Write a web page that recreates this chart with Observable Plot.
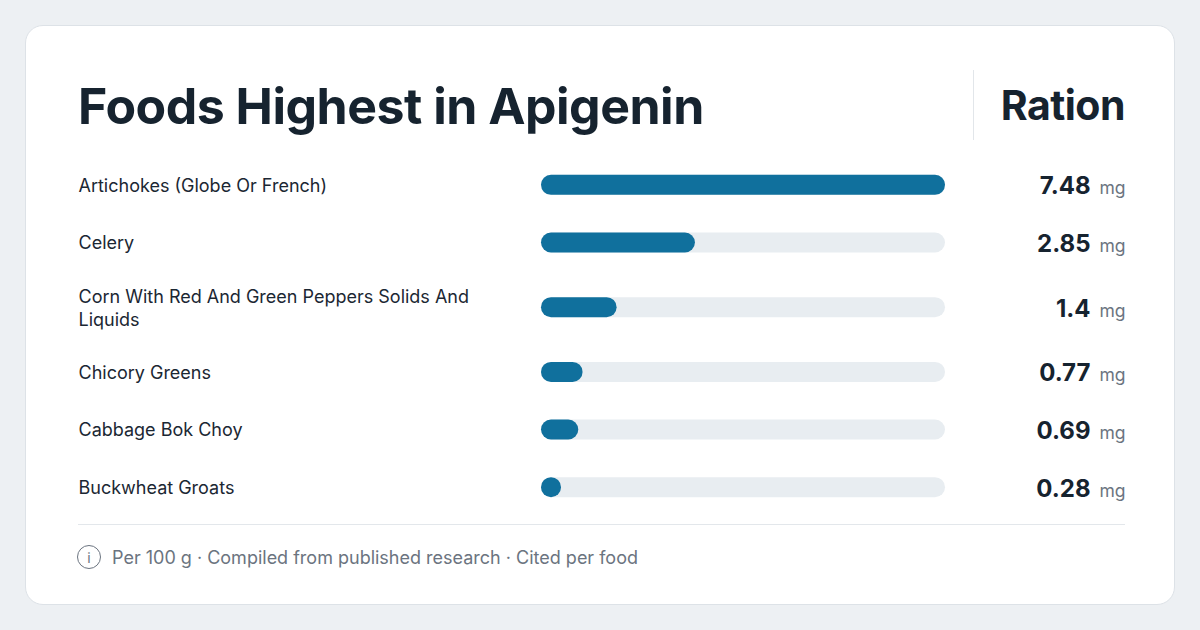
<!DOCTYPE html>
<html>
<head>
<meta charset="utf-8">
<script src="https://cdn.jsdelivr.net/npm/d3@7"></script>
<script src="https://cdn.jsdelivr.net/npm/@observablehq/plot@0.6"></script>
<style>
  html, body { margin: 0; padding: 0; }
  body { width: 1200px; height: 630px; background: #edf0f3; position: relative; overflow: hidden; font-family: Inter, "Noto Sans", sans-serif; }
  .card { position: absolute; left: 25px; top: 25px; width: 1148px; height: 578px; background: #fff; border: 1px solid #dde2e7; border-radius: 18px; }
  .title { position: absolute; left: 78px; top: 81px; font-size: 50px; line-height: 50px; font-weight: 700; color: #16232f; letter-spacing: -0.5px; white-space: nowrap; }
  .head { position: absolute; right: 75px; top: 85px; font-size: 41px; line-height: 41px; font-weight: 700; color: #16232f; letter-spacing: -0.5px; }
  .divider { position: absolute; left: 973px; top: 70px; width: 1px; height: 70px; background: #e2e6ea; }
  .rule { position: absolute; left: 78px; top: 524px; width: 1047px; height: 1px; background: #e3e7eb; }
  .foot { position: absolute; left: 77px; top: 544px; height: 26px; display: flex; align-items: center; font-size: 18px; color: #6b7480; white-space: nowrap; }
  .icon { width: 22px; height: 22px; border: 1.5px solid #6b7480; border-radius: 50%; display: inline-flex; align-items: center; justify-content: center; font-size: 14px; margin-right: 11px; box-sizing: content-box; }
  #chart { position: absolute; left: 0; top: 156px; }
</style>
</head>
<body>
<div class="card"></div>
<div class="title">Foods Highest in Apigenin</div>
<div class="divider"></div>
<div class="head">Ration</div>
<div id="chart"></div>
<div class="rule"></div>
<div class="foot"><span class="icon">i</span>Per 100 g · Compiled from published research · Cited per food</div>
<script>
const foods = [
  "Artichokes (Globe Or French)",
  "Celery",
  "Corn With Red And Green Peppers Solids And Liquids",
  "Chicory Greens",
  "Cabbage Bok Choy",
  "Buckwheat Groats"
];
const amounts = [7.48, 2.85, 1.4, 0.77, 0.69, 0.28];
const unitLabel = "mg";

// wrap labels with real font measurement
const canvas = document.createElement("canvas");
const ctx = canvas.getContext("2d");
ctx.font = "18px Inter";
function wrap(text, maxW) {
  const words = text.split(" ");
  const lines = [];
  let cur = "";
  for (const w of words) {
    const t = cur ? cur + " " + w : w;
    if (ctx.measureText(t).width > maxW && cur) { lines.push(cur); cur = w; }
    else cur = t;
  }
  if (cur) lines.push(cur);
  return lines;
}

let acc = 0;
const rows = foods.map((name, i) => {
  const lines = wrap(name, 430);
  const h = 1 + 0.245 * (lines.length - 1);
  const r = { name, text: lines.join("\n"), value: amounts[i], center: acc + h / 2 };
  acc += h;
  return r;
});
const total = acc;
const H = 360;
const pxPerUnit = H / total;
const half = 10 / pxPerUnit;
const maxV = d3.max(amounts);
const minV = maxV * 20 / 404;

const chart = Plot.plot({
  width: 1200,
  height: H,
  margin: 0,
  x: { domain: [0, maxV], range: [541, 945], axis: null },
  y: { domain: [0, total], range: [0, H], axis: null },
  style: { fontFamily: "Inter, 'Noto Sans', sans-serif", background: "transparent", overflow: "visible" },
  marks: [
    Plot.rect(rows, { x1: 0, x2: maxV, y1: d => d.center - half, y2: d => d.center + half, fill: "#e8edf1", rx: 10 }),
    Plot.rect(rows, { x1: 0, x2: d => Math.max(d.value, minV), y1: d => d.center - half, y2: d => d.center + half, fill: "#10709d", rx: 10 }),
    Plot.text(rows, { y: "center", text: "text", frameAnchor: "left", dx: 78, dy: -1, textAnchor: "start", fontSize: 18, fill: "#1b2733", lineHeight: 1.28 }),
    Plot.text(rows, { y: "center", text: d => String(d.value), frameAnchor: "right", dx: -110, textAnchor: "end", lineAnchor: "bottom", dy: 9, fontSize: 24, fontWeight: 700, fill: "#16232f" }),
    Plot.text(rows, { y: "center", text: () => unitLabel, frameAnchor: "right", dx: -75, textAnchor: "end", lineAnchor: "bottom", dy: 9, fontSize: 17.5, fill: "#6b7480" })
  ]
});
document.getElementById("chart").appendChild(chart);
</script>
</body>
</html>
